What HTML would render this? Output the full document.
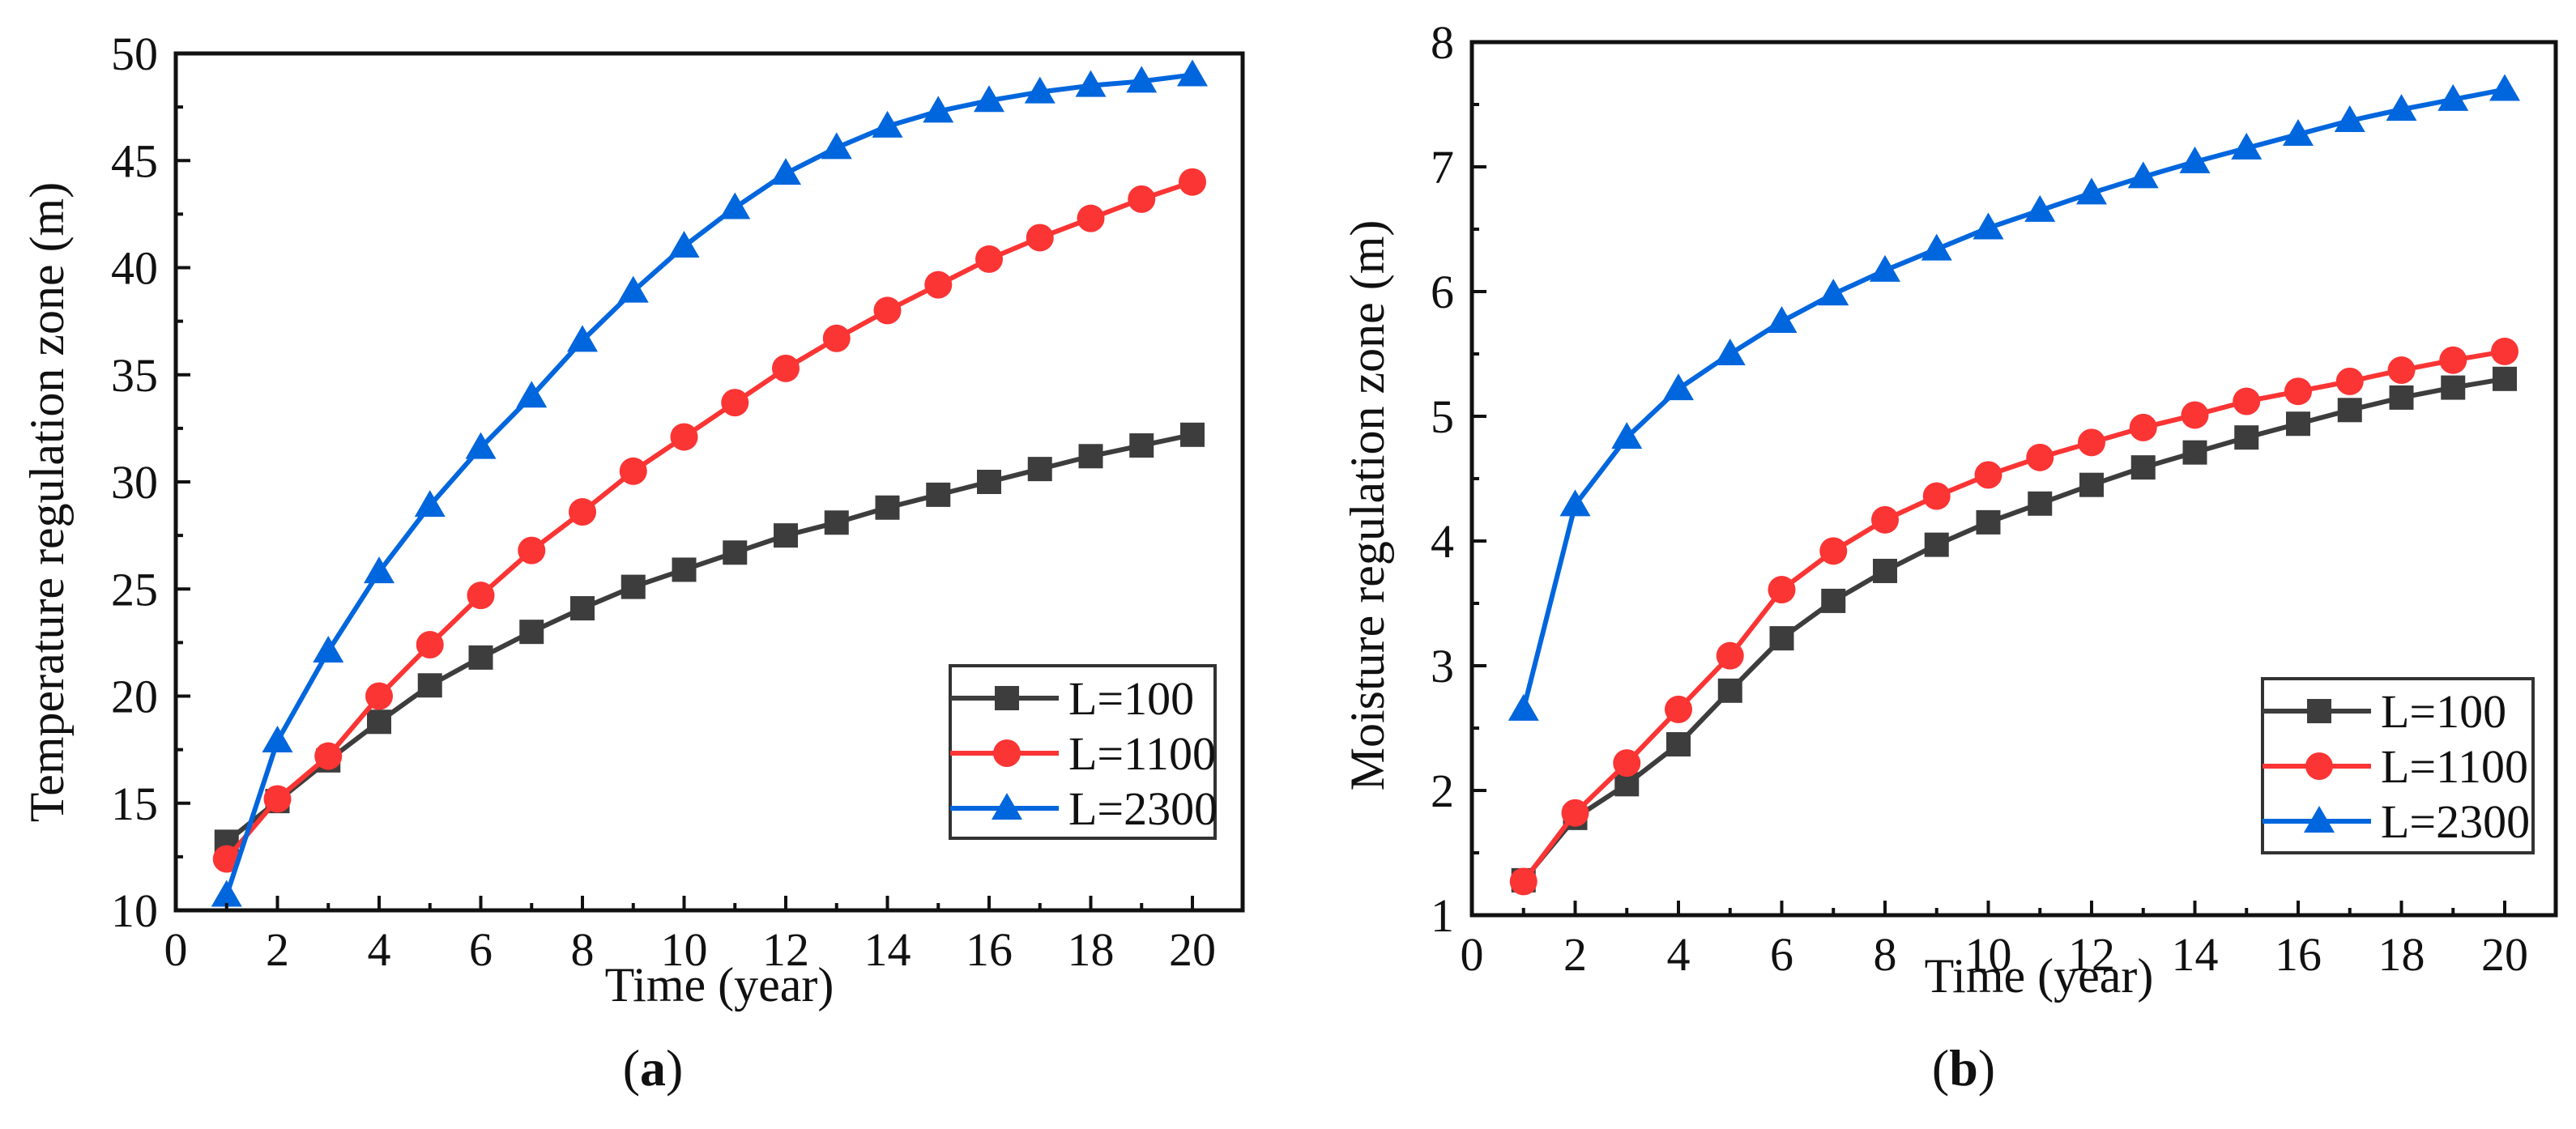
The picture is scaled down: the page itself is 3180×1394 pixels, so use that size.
<!DOCTYPE html>
<html><head><meta charset="utf-8"><style>
html,body{margin:0;padding:0;background:#fff;}
svg{display:block;font-family:"Liberation Serif",serif;}
</style></head><body>
<svg id="fig" width="3180" height="1394" viewBox="0 0 3180 1394" xmlns="http://www.w3.org/2000/svg"></svg>
<script>
const years = [1,2,3,4,5,6,7,8,9,10,11,12,13,14,15,16,17,18,19,20];
const seriesNames = ["L=100","L=1100","L=2300"];
const tempL100 = [13.2,15.1,17,18.8,20.5,21.8,23,24.1,25.1,25.9,26.7,27.5,28.1,28.8,29.4,30,30.6,31.2,31.7,32.2];
const tempL1100 = [12.4,15.2,17.2,20,22.4,24.7,26.8,28.6,30.5,32.1,33.7,35.3,36.7,38,39.2,40.4,41.4,42.3,43.2,44];
const tempL2300 = [10.7,17.9,22.1,25.8,28.9,31.6,34,36.6,38.9,41,42.8,44.4,45.6,46.6,47.3,47.8,48.2,48.5,48.7,49];
const moistL100 = [1.28,1.78,2.05,2.37,2.8,3.22,3.52,3.76,3.97,4.15,4.3,4.45,4.59,4.71,4.83,4.94,5.05,5.15,5.23,5.3];
const moistL1100 = [1.27,1.82,2.22,2.65,3.08,3.61,3.92,4.17,4.36,4.53,4.67,4.79,4.91,5.01,5.12,5.2,5.28,5.37,5.45,5.52];
const moistL2300 = [2.65,4.29,4.83,5.22,5.5,5.76,5.98,6.17,6.34,6.51,6.65,6.79,6.92,7.04,7.15,7.26,7.37,7.46,7.54,7.62];
const xTicks = [0,2,4,6,8,10,12,14,16,18,20];
const tempTicks = [10,15,20,25,30,35,40,45,50];
const moistTicks = [1,2,3,4,5,6,7,8];

const NS="http://www.w3.org/2000/svg";
const svg=document.getElementById('fig');
function mk(tag,attrs,parent){const e=document.createElementNS(NS,tag);for(const k in attrs)e.setAttribute(k,attrs[k]);(parent||svg).appendChild(e);return e;}
const colors=["#3d3d3d","#fb3434","#0066dd"];
const markers=["square","circle","triangle"];

function marker(g,type,x,y,color){
  let m;
  if(type==="square"){m=mk('rect',{x:x-15,y:y-15,width:30,height:30,fill:color},g);}
  else if(type==="circle"){m=mk('circle',{cx:x,cy:y,r:17,fill:color},g);}
  else {m=mk('polygon',{points:`${x},${y-19} ${x+19},${y+14} ${x-19},${y+14}`,fill:color},g);}
  return m;
}

function chart(cfg){
  const g=mk('g',{});
  
  
  const X=v=>cfg.x0+(v-cfg.xmin)/(cfg.xmax-cfg.xmin)*(cfg.x1-cfg.x0);
  const Y=v=>cfg.y1-(v-cfg.ymin)/(cfg.ymax-cfg.ymin)*(cfg.y1-cfg.y0);
  // series
  cfg.series.forEach((s,i)=>{
    const sg=mk('g',{},g);
    
    
    const pts=years.map((t,j)=>X(t)+','+Y(s[j])).join(' ');
    mk('polyline',{points:pts,fill:'none',stroke:colors[i],'stroke-width':6,'stroke-linejoin':'round'},sg);
    years.forEach((t,j)=>{
      const m=marker(sg,markers[i],X(t),Y(s[j]),colors[i]);
      
      
    });
  });
  // axes box
  const ax=mk('g',{},g);
  
  
  mk('rect',{x:cfg.x0,y:cfg.y0,width:cfg.x1-cfg.x0,height:cfg.y1-cfg.y0,fill:'none',stroke:'#111','stroke-width':5},ax);
  // x ticks
  for(let v=1;v<=cfg.xmaxTick;v++){
    const major=(v%2===0);
    mk('line',{x1:X(v),x2:X(v),y1:cfg.y1,y2:cfg.y1-(major?18:9),stroke:'#111','stroke-width':4},ax);
  }
  xTicks.forEach(v=>{
    const t=mk('text',{x:X(v),y:cfg.y1+68,'font-size':58,'text-anchor':'middle',fill:'#111'},ax);
    t.textContent=v;
    
    
  });
  // y ticks
  cfg.yTicks.forEach((v,k)=>{
    mk('line',{x1:cfg.x0,x2:cfg.x0+18,y1:Y(v),y2:Y(v),stroke:'#111','stroke-width':4},ax);
    if(k<cfg.yTicks.length-1){const h=(v+cfg.yTicks[k+1])/2;mk('line',{x1:cfg.x0,x2:cfg.x0+9,y1:Y(h),y2:Y(h),stroke:'#111','stroke-width':4},ax);}
    const t=mk('text',{x:cfg.x0-22,y:Y(v)+20,'font-size':58,'text-anchor':'end',fill:'#111'},ax);
    t.textContent=v;
    
    
  });
  const xt=mk('text',{x:cfg.xtX,y:cfg.xtY,'font-size':60,'text-anchor':'middle',fill:'#111'},g);
  xt.textContent='Time (year)';
  
  
  const yt=mk('text',{x:0,y:0,'font-size':60,'text-anchor':'middle',fill:'#111',transform:`translate(${cfg.ytX},${cfg.ytY}) rotate(-90)`},g);
  yt.textContent=cfg.ytitle;
  
  
  // legend
  const lg=mk('g',{},g);
  
  
  const L=cfg.legend;
  mk('rect',{x:L.x,y:L.y,width:L.w,height:L.h,fill:'#fff',stroke:'#333','stroke-width':4},lg);
  seriesNames.forEach((n,i)=>{
    const ry=L.y+40+i*68;
    const e=mk('g',{},lg);
    
    
    mk('line',{x1:L.x,x2:L.x+134,y1:ry,y2:ry,stroke:colors[i],'stroke-width':6},e);
    marker(e,markers[i],L.x+70,ry,colors[i]);
    const t=mk('text',{x:L.x+146,y:ry+20,'font-size':58,fill:'#111'},e);
    t.textContent=n;
  });
  const c=mk('text',{x:cfg.capX,y:1340,'font-size':64,'text-anchor':'middle',fill:'#111'},g);
  c.innerHTML='(<tspan font-weight="bold">'+cfg.cap+'</tspan>)';
  
  
}

chart({name:'chart-temperature',x0:217,x1:1534,y0:66,y1:1124,xmin:0,xmax:(1534-217)/62.75,xmaxTick:20,ymin:10,ymax:50,
  yTicks:tempTicks,series:[tempL100,tempL1100,tempL2300],ytitle:'Temperature regulation zone (m)',
  xtX:888,xtY:1236,ytX:78,ytY:620,legend:{x:1173,y:822,w:327,h:213},capX:806,cap:'a'});
chart({name:'chart-moisture',x0:1817,x1:3155,y0:52,y1:1130,xmin:0,xmax:(3155-1817)/63.75,xmaxTick:20,ymin:1,ymax:8,
  yTicks:moistTicks,series:[moistL100,moistL1100,moistL2300],ytitle:'Moisture regulation zone (m)',
  xtX:2517,xtY:1225,ytX:1708,ytY:624,legend:{x:2793,y:838,w:334,h:215},capX:2424,cap:'b'});
</script>
</body></html>
